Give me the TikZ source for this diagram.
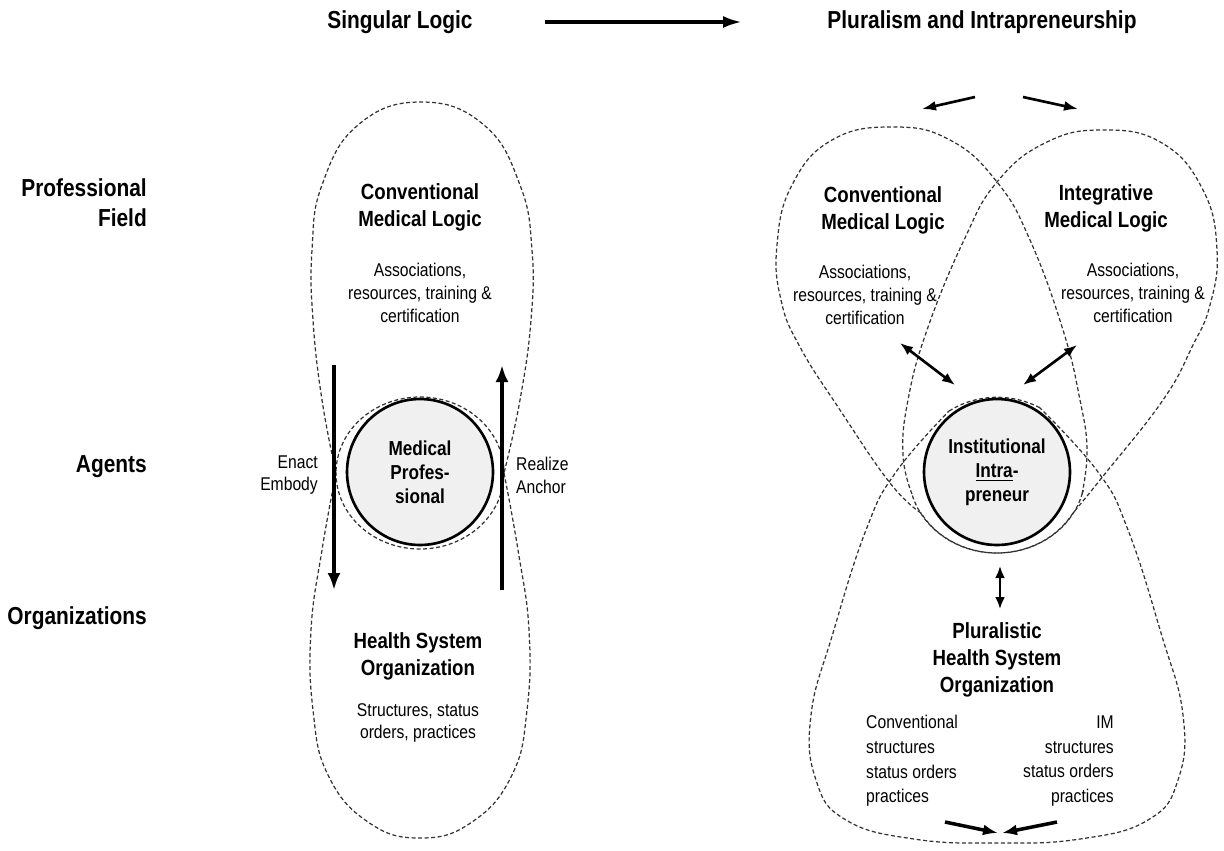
\documentclass[tikz,border=0pt]{standalone}
\usepackage{fontspec}
\setmainfont{Liberation Sans}[FakeStretch=0.85]
\usepackage{tikz}
\usetikzlibrary{arrows.meta}
\usetikzlibrary{arrows}
\usetikzlibrary{positioning}

\begin{document}
\begin{tikzpicture}[x=0.02cm,y=-0.02cm,
    lobe/.style={draw=black!80,line width=0.7pt,dash pattern=on 0.8mm off 0.5mm},
    heading/.style={font=\fontsize{14}{17}\selectfont\bfseries},
    rowlabel/.style={font=\fontsize{14}{17}\selectfont\bfseries,align=right,anchor=east},
    logic/.style={font=\fontsize{12.5}{15.3}\selectfont\bfseries,align=center},
    detail/.style={font=\fontsize{10.5}{13}\selectfont,align=center},
    orglist/.style={font=\fontsize{10.5}{14}\selectfont},
    agent/.style={circle,draw,line width=1.5pt,fill=black!6,minimum size=2.92cm,inner sep=0pt,align=center,font=\fontsize{11.5}{13.6}\selectfont\bfseries}]
    \useasboundingbox (0,0) rectangle (1224,850);

    \draw[lobe] plot[smooth,tension=0.75] coordinates {(336,473) (322,400) (313,320) (312,250) (322,185) (358,125) (421,102) (484,125) (520,185) (532,250) (531,320) (520,400) (504,473)}
        arc[start angle=0,end angle=180,x radius=84,y radius=76] -- cycle;
    \draw[lobe] plot[smooth,tension=0.75] coordinates {(504,473) (518,550) (529,630) (527,710) (512,775) (472,822) (420,838) (368,822) (328,775) (313,710) (311,630) (322,550) (336,473)}
        arc[start angle=180,end angle=360,x radius=84,y radius=76] -- cycle;

    \draw[lobe] plot[smooth,tension=0.75] coordinates {(1082,494) (1087,450) (1080,400) (1063,330) (1030,240) (997,182) (950,140) (893,127) (832,140) (792,185) (777,245) (781,300) (800,347) (840,410) (890,483) (921,513)}
        arc[start angle=150,end angle=15,x radius=88,y radius=80] -- cycle;
    \draw[lobe] plot[smooth,tension=0.75] coordinates {(912,494) (903,455) (908,400) (927,330) (964,240) (997,182) (1045,143) (1102,130) (1162,143) (1203,190) (1217,250) (1210,305) (1192,347) (1163,400) (1104,475) (1073,513)}
        arc[start angle=30,end angle=165,x radius=88,y radius=80] -- cycle;
    \draw[lobe] (949,411) arc[start angle=235,end angle=300,x radius=84,y radius=76]
        plot[smooth,tension=0.75] coordinates {(1039,407) (1098,472) (1128,530) (1161,633) (1183,715) (1178,780) (1148,820) (1080,839) (997,843) (914,839) (846,820) (816,780) (811,715) (833,633) (866,530) (896,472) (949,411)};

    \node[heading] (singular) at (400,22) {Singular Logic};
    \node[heading] (plural) at (982,22) {Pluralism and Intrapreneurship};

    \node[rowlabel] (field) at (153,203) {Professional\\Field};
    \node[rowlabel] (agents) at (153,467) {Agents};
    \node[rowlabel] (orgs) at (153,618) {Organizations};

    \node[logic] (convL) at (420,207) {Conventional\\Medical Logic};
    \node[detail] (assocL) at (420,293) {Associations,\\resources, training \&\\certification};
    \node[agent] (medpro) at (420,472) {Medical\\Profes-\\sional};
    \node[detail,anchor=east,align=right] (enact) at (324,475) {Enact\\Embody};
    \node[detail,anchor=west,align=left] (realize) at (510,475) {Realize\\Anchor};
    \node[logic] (hsoL) at (418,656) {Health System\\Organization};
    \node[detail] (structL) at (418,723) {Structures, status\\orders, practices};

    \node[logic] (convR) at (883,210) {Conventional\\Medical Logic};
    \node[detail] (assocR) at (865,295) {Associations,\\resources, training \&\\certification};
    \node[logic] (integR) at (1106,208) {Integrative\\Medical Logic};
    \node[detail] (assocI) at (1133,293) {Associations,\\resources, training \&\\certification};
    \node[agent] (intra) at (997,472) {Institutional\\\underline{Intra}-\\preneur};
    \node[logic] (phso) at (997,660) {Pluralistic\\Health System\\Organization};
    \node[orglist,anchor=west,align=left] (convOrg) at (860,761) {Conventional\\structures\\status orders\\practices};
    \node[orglist,anchor=east,align=right] (imOrg) at (1120,761) {IM\\structures\\status orders\\practices};

    \coordinate (shiftA) at (545,22);
    \coordinate (shiftB) at (742,22);
    \coordinate (enactTop) at (334,365);
    \coordinate (enactBot) at (334,590);
    \coordinate (realizeBot) at (502,590);
    \coordinate (realizeTop) at (502,365);
    \coordinate (splitL) at (975,97);
    \coordinate (splitLtip) at (922,109);
    \coordinate (splitR) at (1023,97);
    \coordinate (splitRtip) at (1078,109);
    \coordinate (linkC) at (900,343);
    \coordinate (linkCin) at (955,385);
    \coordinate (linkI) at (1077,345);
    \coordinate (linkIin) at (1023,385);
    \coordinate (linkOtop) at (1000,566);
    \coordinate (linkObot) at (1000,609);
    \coordinate (mergeL) at (945,822);
    \coordinate (mergeR) at (1057,822);
    \coordinate (mergeLtip) at (998,833);
    \coordinate (mergeRtip) at (1002,833);

    \begin{scope}[every edge/.style={draw=black,line width=2pt}]
    \path (shiftA) edge[->,> = {Latex[length=3.8mm,width=2.4mm]}] (shiftB);
    \path (enactTop) edge[->,> = {Latex[length=3.4mm,width=2.6mm]}] (enactBot);
    \path (realizeBot) edge[->,> = {Latex[length=3.4mm,width=2.6mm]}] (realizeTop);
    \path (mergeL) edge[->,> = {Latex[length=3mm,width=2.2mm]}] (mergeLtip);
    \path (mergeR) edge[->,> = {Latex[length=3mm,width=2.2mm]}] (mergeRtip);
    \end{scope}
    \begin{scope}[every edge/.style={draw=black,line width=1.5pt}]
    \path (splitL) edge[->,> = {Latex[length=2.8mm,width=2mm]}] (splitLtip);
    \path (splitR) edge[->,> = {Latex[length=2.8mm,width=2mm]}] (splitRtip);
    \path (linkC) edge[<->,> = {Latex[length=2.6mm,width=2mm]}] (linkCin);
    \path (linkI) edge[<->,> = {Latex[length=2.6mm,width=2mm]}] (linkIin);
    \path (linkOtop) edge[<->,> = {Latex[length=2.4mm,width=2mm]}] (linkObot);
    \end{scope}
\end{tikzpicture}
\end{document}
